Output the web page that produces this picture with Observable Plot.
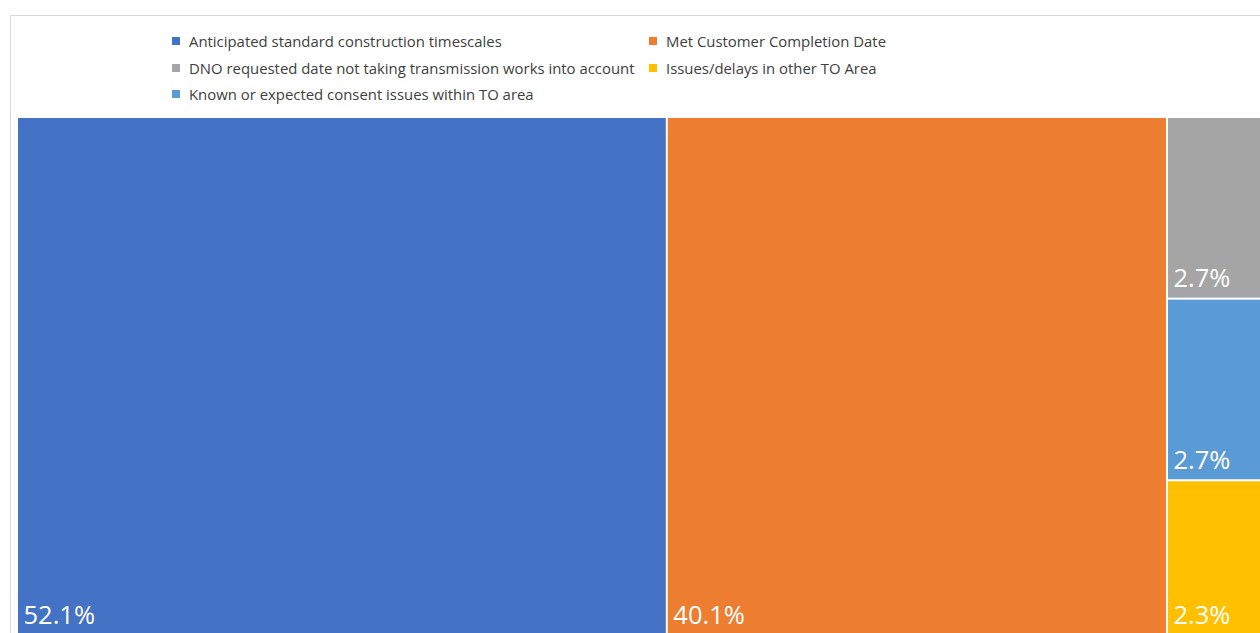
<!DOCTYPE html>
<html>
<head>
<meta charset="utf-8">
<script src="https://cdn.jsdelivr.net/npm/d3@7"></script>
<script src="https://cdn.jsdelivr.net/npm/@observablehq/plot@0.6"></script>
<style>
  html, body { margin: 0; padding: 0; width: 1260px; height: 633px; overflow: hidden; background: #fff; }
  #frame { position: absolute; left: 10px; top: 15px; width: 1300px; height: 700px; border: 1px solid #d9d9d9; box-sizing: border-box; }
  #legend { position: absolute; left: 172px; top: 28px; display: grid; grid-template-columns: 477px 400px; grid-auto-rows: 26.5px;
            font-family: "Open Sans", sans-serif; font-size: 14.9px; color: #404040; }
  .item { display: flex; align-items: center; white-space: nowrap; }
  .sw { width: 8px; height: 8px; margin-right: 9px; flex: none; }
  #chart { position: absolute; left: 18px; top: 118px; width: 1250px; height: 516px; }
  #chart svg { max-width: none !important; }
</style>
</head>
<body>
<div id="frame"></div>
<div id="legend"></div>
<div id="chart"></div>
<script>
// Data
const categories = [
  "Anticipated standard construction timescales",
  "Met Customer Completion Date",
  "DNO requested date not taking transmission works into account",
  "Known or expected consent issues within TO area",
  "Issues/delays in other TO Area"
];
const values = [52.1, 40.1, 2.7, 2.7, 2.3];
const colors = ["#4472C4", "#ED7D31", "#A5A5A5", "#5B9BD5", "#FFC000"];
const legendOrder = [
  "Anticipated standard construction timescales",
  "Met Customer Completion Date",
  "DNO requested date not taking transmission works into account",
  "Issues/delays in other TO Area",
  "Known or expected consent issues within TO area"
];

const W = 1244, H = 516;

// Legend
const legend = document.getElementById("legend");
for (const name of legendOrder) {
  const item = document.createElement("div");
  item.className = "item";
  const sw = document.createElement("span");
  sw.className = "sw";
  sw.style.background = colors[categories.indexOf(name)];
  const t = document.createElement("span");
  t.textContent = name;
  item.appendChild(sw); item.appendChild(t);
  legend.appendChild(item);
}

// Treemap layout
const table = categories.map((c, i) => ({name: c, value: values[i], color: colors[i]}));
const root = d3.hierarchy({children: table}).sum(d => d.value || 0);
d3.treemap().size([W, H]).tile(d3.treemapSquarify).paddingInner(2).round(false)(root);
const leaves = root.leaves().map(n => ({...n.data, x0: n.x0, x1: n.x1, y0: n.y0, y1: n.y1}));

const chart = Plot.plot({
  width: W,
  height: H,
  margin: 0,
  x: {domain: [0, W], range: [0, W], axis: null},
  y: {domain: [0, H], range: [0, H], axis: null},
  style: {background: "transparent", maxWidth: "none"},
  marks: [
    Plot.rect(leaves, {x1: "x0", x2: "x1", y1: "y0", y2: "y1", fill: "color"}),
    Plot.text(leaves, {
      x: "x0", y: "y1", text: d => d.value.toFixed(1) + "%",
      textAnchor: "start", lineAnchor: "bottom", dx: 5, dy: -11,
      fill: "white", fontSize: 25.5, fontFamily: "Open Sans, sans-serif"
    })
  ]
});
document.getElementById("chart").appendChild(chart);
</script>
</body>
</html>
